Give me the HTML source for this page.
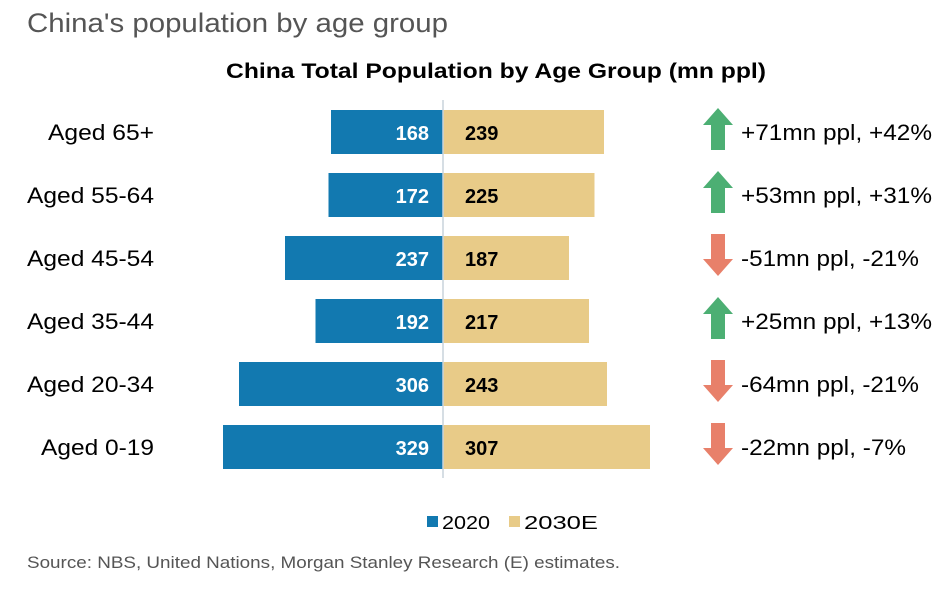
<!DOCTYPE html>
<html><head><style>
body{margin:0;width:952px;height:590px;background:#fff;font-family:"Liberation Sans",Arial,sans-serif;overflow:hidden}
</style></head><body>
<svg width="952" height="590" xmlns="http://www.w3.org/2000/svg" font-family="Liberation Sans, Arial, sans-serif">
<text x="27" y="32" font-size="27" fill="#555" textLength="421" lengthAdjust="spacingAndGlyphs">China's population by age group</text>
<text x="226" y="78" font-size="21" font-weight="bold" fill="#000" textLength="540" lengthAdjust="spacingAndGlyphs">China Total Population by Age Group (mn ppl)</text>
<g font-size="22" fill="#000">
<text x="48" y="140" textLength="106" lengthAdjust="spacingAndGlyphs">Aged 65+</text>
<text x="27" y="203" textLength="127" lengthAdjust="spacingAndGlyphs">Aged 55-64</text>
<text x="27" y="266" textLength="127" lengthAdjust="spacingAndGlyphs">Aged 45-54</text>
<text x="27" y="329" textLength="127" lengthAdjust="spacingAndGlyphs">Aged 35-44</text>
<text x="27" y="392" textLength="127" lengthAdjust="spacingAndGlyphs">Aged 20-34</text>
<text x="41" y="455" textLength="113" lengthAdjust="spacingAndGlyphs">Aged 0-19</text>
</g>
<g fill="#1279b0">
<rect x="331" y="110" width="112" height="44"/>
<rect x="328.5" y="173" width="114.5" height="44"/>
<rect x="285" y="236" width="158" height="44"/>
<rect x="315.5" y="299" width="127.5" height="44"/>
<rect x="239" y="362" width="204" height="44"/>
<rect x="223" y="425" width="220" height="44"/>
</g>
<g fill="#e8cb88">
<rect x="443" y="110" width="161" height="44"/>
<rect x="443" y="173" width="151.5" height="44"/>
<rect x="443" y="236" width="126" height="44"/>
<rect x="443" y="299" width="146" height="44"/>
<rect x="443" y="362" width="164" height="44"/>
<rect x="443" y="425" width="207" height="44"/>
</g>
<line x1="443" y1="100" x2="443" y2="478" stroke="#c8d3dc" stroke-width="1.5"/>
<g font-size="20" font-weight="bold" fill="#fff" text-anchor="end">
<text x="429" y="140">168</text><text x="429" y="203">172</text><text x="429" y="266">237</text>
<text x="429" y="329">192</text><text x="429" y="392">306</text><text x="429" y="455">329</text>
</g>
<g font-size="20" font-weight="bold" fill="#000">
<text x="465" y="140">239</text><text x="465" y="203">225</text><text x="465" y="266">187</text>
<text x="465" y="329">217</text><text x="465" y="392">243</text><text x="465" y="455">307</text>
</g>
<g fill="#4caf73">
<polygon points="718,108 733,125 725,125 725,150 711,150 711,125 703,125"/>
<polygon points="718,171 733,188 725,188 725,213 711,213 711,188 703,188"/>
<polygon points="718,297 733,314 725,314 725,339 711,339 711,314 703,314"/>
</g>
<g fill="#e8806a">
<polygon points="711,234 725,234 725,259 733,259 718,276 703,259 711,259"/>
<polygon points="711,360 725,360 725,385 733,385 718,402 703,385 711,385"/>
<polygon points="711,423 725,423 725,448 733,448 718,465 703,448 711,448"/>
</g>
<g font-size="22" fill="#000">
<text x="741" y="140" textLength="191" lengthAdjust="spacingAndGlyphs">+71mn ppl, +42%</text>
<text x="741" y="203" textLength="191" lengthAdjust="spacingAndGlyphs">+53mn ppl, +31%</text>
<text x="741" y="266" textLength="178" lengthAdjust="spacingAndGlyphs">-51mn ppl, -21%</text>
<text x="741" y="329" textLength="191" lengthAdjust="spacingAndGlyphs">+25mn ppl, +13%</text>
<text x="741" y="392" textLength="178" lengthAdjust="spacingAndGlyphs">-64mn ppl, -21%</text>
<text x="741" y="455" textLength="165" lengthAdjust="spacingAndGlyphs">-22mn ppl, -7%</text>
</g>
<rect x="427" y="516" width="11" height="11" fill="#1279b0"/>
<text x="442" y="529" font-size="18" fill="#000" textLength="48" lengthAdjust="spacingAndGlyphs">2020</text>
<rect x="509" y="516" width="11" height="11" fill="#e8cb88"/>
<text x="524" y="529" font-size="18" fill="#000" textLength="74" lengthAdjust="spacingAndGlyphs">2030E</text>
<text x="27" y="568" font-size="17" fill="#555" textLength="593" lengthAdjust="spacingAndGlyphs">Source: NBS, United Nations, Morgan Stanley Research (E) estimates.</text>
</svg>
</body></html>
